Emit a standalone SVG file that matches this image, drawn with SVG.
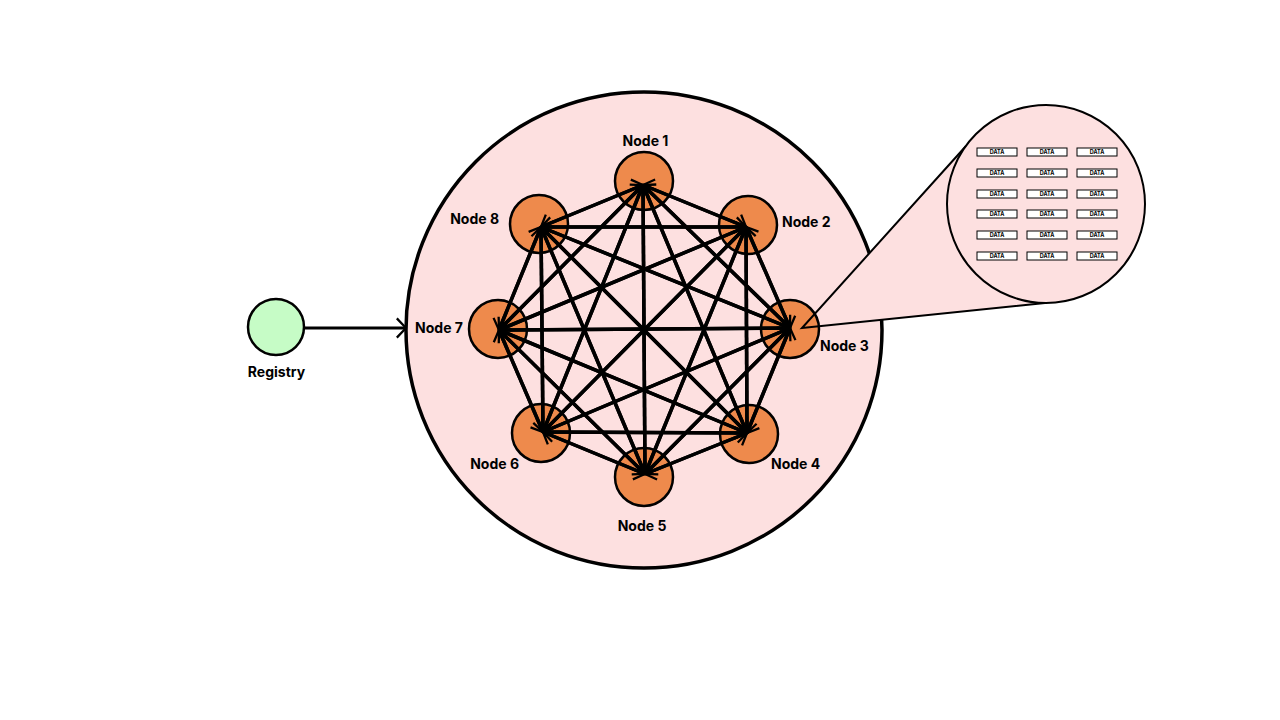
<svg xmlns="http://www.w3.org/2000/svg" width="1280" height="720" viewBox="0 0 1280 720">
<defs>
<style>
.lbl{font-family:Inter,"Liberation Sans",sans-serif;font-weight:700;font-size:14px;fill:#000}
.node{fill:#ee8a4c;stroke:#000;stroke-width:2.5}
.e{stroke:#000;stroke-width:3.5;fill:none;marker-end:url(#ah)}
.db{fill:#fff;stroke:#000;stroke-width:1}
.dt{font-family:Inter,"Liberation Sans",sans-serif;font-weight:700;font-size:5.5px;fill:#000;text-anchor:middle}
</style>
<marker id="ah" viewBox="0 0 12 24" refX="11" refY="12" markerWidth="12" markerHeight="22" markerUnits="userSpaceOnUse" orient="auto">
<path d="M1,1.5 L11,12 L1,22.5" fill="none" stroke="#000" stroke-width="2.5"/>
</marker>
</defs>
<rect width="1280" height="720" fill="#fff"/>
<g id="cluster">
<circle cx="644" cy="330" r="238" fill="#fde0e0" stroke="#000" stroke-width="3.5"/>
</g>
<polygon id="callout-fill" points="802,328 966,146 1045,303" fill="#fde0e0"/>
<g id="registry">
<circle cx="276" cy="327" r="28" fill="#c6fcc6" stroke="#000" stroke-width="2.5"/>
<text class="lbl" x="276.5" y="377" text-anchor="middle">Registry</text>
</g>
<g id="node1"><circle class="node" cx="644" cy="181" r="29"/><text class="lbl" x="645.5" y="146" text-anchor="middle">Node 1</text></g>
<g id="node2"><circle class="node" cx="748" cy="225" r="29"/><text class="lbl" x="782" y="227">Node 2</text></g>
<g id="node3"><circle class="node" cx="790" cy="329" r="29"/><text class="lbl" x="820" y="351">Node 3</text></g>
<g id="node4"><circle class="node" cx="749" cy="434" r="29"/><text class="lbl" x="771" y="469">Node 4</text></g>
<g id="node5"><circle class="node" cx="644" cy="477" r="29"/><text class="lbl" x="642" y="531" text-anchor="middle">Node 5</text></g>
<g id="node6"><circle class="node" cx="541" cy="433" r="29"/><text class="lbl" x="519" y="469" text-anchor="end">Node 6</text></g>
<g id="node7"><circle class="node" cx="498" cy="329" r="29"/><text class="lbl" x="463" y="333" text-anchor="end">Node 7</text></g>
<g id="node8"><circle class="node" cx="539" cy="224" r="29"/><text class="lbl" x="499" y="224" text-anchor="end">Node 8</text></g>
<g id="connectors">
<line class="e" x1="305" y1="328" x2="406" y2="328" style="stroke-width:3"/>
<line class="e" x1="643" y1="185" x2="746" y2="227"/><line class="e" x1="746" y1="227" x2="643" y2="185"/>
<line class="e" x1="643" y1="185" x2="790" y2="328"/><line class="e" x1="790" y1="328" x2="643" y2="185"/>
<line class="e" x1="643" y1="185" x2="747" y2="433"/><line class="e" x1="747" y1="433" x2="643" y2="185"/>
<line class="e" x1="643" y1="185" x2="645" y2="474"/><line class="e" x1="645" y1="474" x2="643" y2="185"/>
<line class="e" x1="643" y1="185" x2="543" y2="432"/><line class="e" x1="543" y1="432" x2="643" y2="185"/>
<line class="e" x1="643" y1="185" x2="499" y2="330"/><line class="e" x1="499" y1="330" x2="643" y2="185"/>
<line class="e" x1="643" y1="185" x2="541" y2="227"/><line class="e" x1="541" y1="227" x2="643" y2="185"/>
<line class="e" x1="746" y1="227" x2="790" y2="328"/><line class="e" x1="790" y1="328" x2="746" y2="227"/>
<line class="e" x1="746" y1="227" x2="747" y2="433"/><line class="e" x1="747" y1="433" x2="746" y2="227"/>
<line class="e" x1="746" y1="227" x2="645" y2="474"/><line class="e" x1="645" y1="474" x2="746" y2="227"/>
<line class="e" x1="746" y1="227" x2="543" y2="432"/><line class="e" x1="543" y1="432" x2="746" y2="227"/>
<line class="e" x1="746" y1="227" x2="499" y2="330"/><line class="e" x1="499" y1="330" x2="746" y2="227"/>
<line class="e" x1="746" y1="227" x2="541" y2="227"/><line class="e" x1="541" y1="227" x2="746" y2="227"/>
<line class="e" x1="790" y1="328" x2="747" y2="433"/><line class="e" x1="747" y1="433" x2="790" y2="328"/>
<line class="e" x1="790" y1="328" x2="645" y2="474"/><line class="e" x1="645" y1="474" x2="790" y2="328"/>
<line class="e" x1="790" y1="328" x2="543" y2="432"/><line class="e" x1="543" y1="432" x2="790" y2="328"/>
<line class="e" x1="790" y1="328" x2="499" y2="330"/><line class="e" x1="499" y1="330" x2="790" y2="328"/>
<line class="e" x1="790" y1="328" x2="541" y2="227"/><line class="e" x1="541" y1="227" x2="790" y2="328"/>
<line class="e" x1="747" y1="433" x2="645" y2="474"/><line class="e" x1="645" y1="474" x2="747" y2="433"/>
<line class="e" x1="747" y1="433" x2="543" y2="432"/><line class="e" x1="543" y1="432" x2="747" y2="433"/>
<line class="e" x1="747" y1="433" x2="499" y2="330"/><line class="e" x1="499" y1="330" x2="747" y2="433"/>
<line class="e" x1="747" y1="433" x2="541" y2="227"/><line class="e" x1="541" y1="227" x2="747" y2="433"/>
<line class="e" x1="645" y1="474" x2="543" y2="432"/><line class="e" x1="543" y1="432" x2="645" y2="474"/>
<line class="e" x1="645" y1="474" x2="499" y2="330"/><line class="e" x1="499" y1="330" x2="645" y2="474"/>
<line class="e" x1="645" y1="474" x2="541" y2="227"/><line class="e" x1="541" y1="227" x2="645" y2="474"/>
<line class="e" x1="543" y1="432" x2="499" y2="330"/><line class="e" x1="499" y1="330" x2="543" y2="432"/>
<line class="e" x1="543" y1="432" x2="541" y2="227"/><line class="e" x1="541" y1="227" x2="543" y2="432"/>
<line class="e" x1="499" y1="330" x2="541" y2="227"/><line class="e" x1="541" y1="227" x2="499" y2="330"/>
</g>
<g id="callout">
<polyline points="966,146 802,328 1045,303" fill="none" stroke="#000" stroke-width="2" stroke-linejoin="miter"/>
<circle cx="1046" cy="204" r="99" fill="#fde0e0" stroke="#000" stroke-width="2"/>
<g id="data">
<rect class="db" x="977" y="148" width="40" height="8"/><text class="dt" x="997" y="154">DATA</text>
<rect class="db" x="1027" y="148" width="40" height="8"/><text class="dt" x="1047" y="154">DATA</text>
<rect class="db" x="1077" y="148" width="40" height="8"/><text class="dt" x="1097" y="154">DATA</text>
<rect class="db" x="977" y="169" width="40" height="8"/><text class="dt" x="997" y="175">DATA</text>
<rect class="db" x="1027" y="169" width="40" height="8"/><text class="dt" x="1047" y="175">DATA</text>
<rect class="db" x="1077" y="169" width="40" height="8"/><text class="dt" x="1097" y="175">DATA</text>
<rect class="db" x="977" y="190" width="40" height="8"/><text class="dt" x="997" y="196">DATA</text>
<rect class="db" x="1027" y="190" width="40" height="8"/><text class="dt" x="1047" y="196">DATA</text>
<rect class="db" x="1077" y="190" width="40" height="8"/><text class="dt" x="1097" y="196">DATA</text>
<rect class="db" x="977" y="210" width="40" height="8"/><text class="dt" x="997" y="216">DATA</text>
<rect class="db" x="1027" y="210" width="40" height="8"/><text class="dt" x="1047" y="216">DATA</text>
<rect class="db" x="1077" y="210" width="40" height="8"/><text class="dt" x="1097" y="216">DATA</text>
<rect class="db" x="977" y="231" width="40" height="8"/><text class="dt" x="997" y="237">DATA</text>
<rect class="db" x="1027" y="231" width="40" height="8"/><text class="dt" x="1047" y="237">DATA</text>
<rect class="db" x="1077" y="231" width="40" height="8"/><text class="dt" x="1097" y="237">DATA</text>
<rect class="db" x="977" y="252" width="40" height="8"/><text class="dt" x="997" y="258">DATA</text>
<rect class="db" x="1027" y="252" width="40" height="8"/><text class="dt" x="1047" y="258">DATA</text>
<rect class="db" x="1077" y="252" width="40" height="8"/><text class="dt" x="1097" y="258">DATA</text>
</g>
</g>
</svg>
